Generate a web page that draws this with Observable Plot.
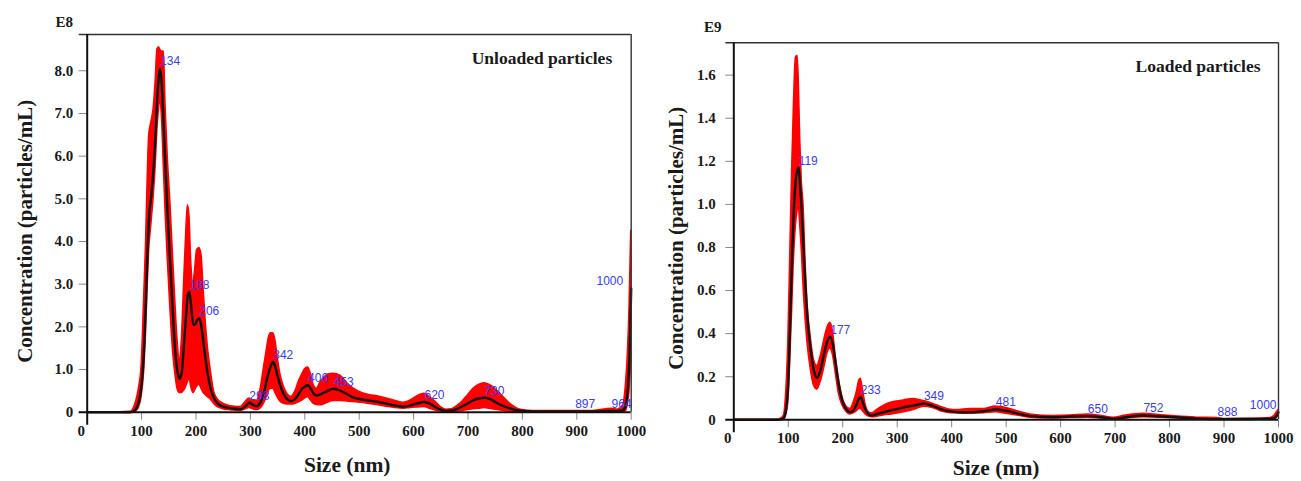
<!DOCTYPE html>
<html><head><meta charset="utf-8">
<script src="https://cdn.jsdelivr.net/npm/d3@7"></script>
<script src="https://cdn.jsdelivr.net/npm/@observablehq/plot@0.6"></script>
<style>
body{margin:0;background:#fff;}
#wrap{position:relative;width:1301px;height:481px;overflow:hidden;background:#fff;}
#left{position:absolute;left:0;top:0;}
#right{position:absolute;left:650px;top:0;}
</style></head><body><div id="wrap"><div id="left"></div><div id="right"></div></div>
<script>
// ---------- Unloaded particles (E8) ----------
const unloadedSize = [0,60,80,85,90,95,100,105,108,111,114,118,122,126,129,132,134,137,141,144,148,153,158,162,166,170,174,178,182,185,188,191,195,198,202,206,210,214,218,222,227,233,240,250,260,270,282,290,298,305,312,318,325,330,334,338,342,346,350,355,361,368,375,383,390,395,400,406,411,416,422,428,435,442,453,466,478,490,505,520,535,550,565,582,595,605,620,630,640,650,660,670,680,690,700,710,720,730,740,750,760,770,780,790,800,820,860,897,930,964,975,985,990,994,997,1000];
const unloadedMean = [0,0,0,0.02,0.08,0.25,0.65,1.6,2.6,3.8,4.6,5.1,5.7,6.6,7.4,7.9,8.05,7.7,6.6,5.7,4.6,3.4,2.2,1.4,0.95,0.78,0.95,1.6,2.3,2.75,2.82,2.5,2.05,2.05,2.15,2.2,2.0,1.6,1.2,0.85,0.55,0.33,0.2,0.13,0.1,0.08,0.07,0.13,0.22,0.17,0.14,0.22,0.45,0.75,0.95,1.1,1.18,1.05,0.85,0.62,0.43,0.3,0.26,0.32,0.45,0.55,0.6,0.63,0.55,0.44,0.39,0.41,0.46,0.5,0.55,0.5,0.42,0.34,0.3,0.27,0.24,0.2,0.16,0.13,0.16,0.2,0.24,0.2,0.12,0.06,0.03,0.04,0.08,0.14,0.21,0.28,0.32,0.34,0.31,0.24,0.17,0.12,0.08,0.05,0.03,0.02,0.02,0.02,0.02,0.03,0.03,0.05,0.15,0.6,1.3,2.9];
const unloadedLow = [0,0,0,0,0.02,0.1,0.35,1.0,1.8,2.9,3.8,4.4,5.0,5.8,6.6,7.1,7.3,7.0,5.7,4.7,3.6,2.4,1.4,0.9,0.55,0.45,0.45,0.5,0.6,0.7,0.8,0.6,0.45,0.5,0.6,0.65,0.55,0.45,0.4,0.35,0.3,0.2,0.12,0.07,0.05,0.04,0.03,0.06,0.1,0.07,0.05,0.08,0.2,0.35,0.5,0.55,0.55,0.45,0.35,0.25,0.2,0.18,0.18,0.2,0.24,0.27,0.32,0.35,0.28,0.2,0.17,0.16,0.18,0.22,0.26,0.26,0.25,0.24,0.22,0.19,0.16,0.13,0.1,0.08,0.1,0.11,0.12,0.08,0.04,0.01,0,0,0.01,0.03,0.05,0.07,0.08,0.1,0.08,0.06,0.04,0.02,0.01,0.005,0,0,0,0,0,0,0,0,0.02,0.2,0.5,1.2];
const unloadedHigh = [0,0,0.01,0.08,0.25,0.55,1.1,2.8,3.9,5.4,6.5,6.8,7.1,7.8,8.5,8.55,8.5,8.45,8.45,7.2,6.0,4.9,3.6,2.6,1.7,1.25,1.7,3.0,4.2,4.85,4.6,3.6,3.0,3.3,3.8,3.85,3.7,2.9,2.1,1.5,1.0,0.5,0.3,0.2,0.15,0.13,0.12,0.22,0.32,0.28,0.27,0.5,1.05,1.45,1.75,1.85,1.85,1.68,1.3,0.9,0.62,0.43,0.36,0.5,0.75,0.88,1.0,1.05,0.9,0.65,0.55,0.68,0.8,0.88,0.9,0.85,0.68,0.55,0.45,0.4,0.37,0.32,0.27,0.22,0.28,0.36,0.43,0.35,0.25,0.12,0.06,0.07,0.14,0.25,0.4,0.55,0.64,0.68,0.64,0.55,0.42,0.29,0.17,0.09,0.05,0.03,0.03,0.03,0.03,0.08,0.06,0.15,0.6,1.4,2.5,4.25];
const unloadedPeaks = [134,188,206,298,342,406,453,620,730,897,964,1000];
const unloadedYTicks = [0,1,2,3,4,5,6,7,8];

// ---------- Loaded particles (E9) ----------
const loadedSize = [0,80,88,92,96,100,104,107,110,114,117,119,122,125,128,132,136,141,147,153,160,166,171,177,182,187,193,199,206,214,220,226,230,233,237,242,248,254,265,275,290,312,330,349,365,380,395,410,434,459,481,500,520,544,587,618,650,675,697,720,752,780,810,850,888,900,950,985,993,997,1000];
const loadedMean = [0,0,0.003,0.01,0.05,0.17,0.5,0.75,0.96,1.12,1.16,1.17,1.08,0.96,0.8,0.6,0.45,0.33,0.23,0.195,0.24,0.31,0.36,0.385,0.35,0.26,0.16,0.09,0.05,0.035,0.045,0.075,0.1,0.105,0.08,0.045,0.025,0.02,0.028,0.035,0.045,0.058,0.066,0.075,0.065,0.05,0.04,0.035,0.035,0.04,0.048,0.042,0.03,0.017,0.012,0.015,0.017,0.012,0.005,0.012,0.02,0.016,0.012,0.006,0.003,0.003,0.004,0.005,0.01,0.02,0.035];
const loadedLow = [0,0,0,0,0.02,0.08,0.3,0.5,0.72,0.9,0.97,1.0,0.9,0.78,0.62,0.46,0.34,0.24,0.16,0.14,0.18,0.24,0.3,0.33,0.3,0.22,0.12,0.07,0.04,0.025,0.03,0.04,0.05,0.05,0.04,0.025,0.015,0.012,0.015,0.02,0.025,0.035,0.045,0.06,0.055,0.04,0.032,0.03,0.028,0.03,0.035,0.028,0.02,0.01,0.006,0.008,0.01,0.006,0.002,0.006,0.012,0.01,0.007,0.003,0.001,0,0,0,0,0.01,0.02];
const loadedHigh = [0,0,0.008,0.02,0.12,0.36,0.81,1.15,1.43,1.68,1.69,1.6,1.3,1.1,1.0,0.72,0.52,0.39,0.28,0.25,0.3,0.37,0.42,0.45,0.41,0.3,0.19,0.11,0.065,0.05,0.08,0.13,0.18,0.19,0.14,0.07,0.035,0.03,0.05,0.065,0.08,0.09,0.097,0.087,0.075,0.06,0.048,0.045,0.05,0.05,0.062,0.055,0.04,0.025,0.018,0.02,0.025,0.018,0.01,0.02,0.028,0.022,0.016,0.01,0.008,0.004,0.005,0.008,0.02,0.035,0.045];
const loadedPeaks = [119,177,233,349,481,650,752,888,1000];
const loadedYTicks = [0,0.2,0.4,0.6,0.8,1.0,1.2,1.4,1.6];

const xTicks = [0,100,200,300,400,500,600,700,800,900,1000];

const serif = "'Liberation Serif','Times New Roman',serif";
const fmtY = d => d === 0 ? "0" : d.toFixed(1);

function panel(cfg) {
  const rows = cfg.size.map((s, i) => ({size: s, mean: cfg.mean[i], low: cfg.low[i], high: cfg.high[i]}));
  const peakRows = cfg.peaks.map(p => rows.find(r => r.size === p));
  const inner = peakRows.filter(r => r.size < 1000);
  const edge = peakRows.filter(r => r.size >= 1000);
  return Plot.plot({
    width: cfg.width, height: 481,
    marginLeft: cfg.ml, marginRight: cfg.mr, marginTop: cfg.mt, marginBottom: cfg.mb,
    x: {domain: [0, 1000]},
    y: {domain: [0, cfg.ymax]},
    style: {fontFamily: serif, background: "transparent", overflow: "visible"},
    marks: [
      Plot.areaY(rows, {x: "size", y1: "low", y2: "high", fill: "#ff0000", stroke: "#ff0000", strokeWidth: 1.5, curve: "monotone-x"}),
      Plot.lineY(rows, {x: "size", y: "mean", stroke: "#111", strokeWidth: 2.4, curve: "monotone-x"}),
      Plot.text(inner, {x: "size", y: "mean", text: d => String(d.size), textAnchor: "start", dy: -7, fill: "#3a3aff", fontFamily: "'Liberation Sans',Arial,sans-serif", fontSize: 12}),
      Plot.text(edge, {x: "size", y: "mean", text: d => String(d.size), textAnchor: "end", dx: cfg.edgeDx, dy: -7, fill: "#3a3aff", fontFamily: "'Liberation Sans',Arial,sans-serif", fontSize: 12}),
      // frame
      Plot.ruleY([cfg.ymax], {stroke: "#333", strokeWidth: 1.4, insetLeft: -8}),
      Plot.ruleX([1000], {stroke: "#333", strokeWidth: 1.4}),
      Plot.axisY({ticks: cfg.yTicks, tickSize: 8, tickPadding: cfg.yPad, tickFormat: fmtY, label: null, fontSize: 15, fontWeight: "bold", stroke: "#888", fill: "#1a1a1a"}),
      Plot.axisX({ticks: xTicks.filter(d => d > 0), tickSize: 8, tickPadding: 5, tickFormat: d => String(d), label: null, fontSize: 15, fontWeight: "bold", stroke: "#888", fill: "#1a1a1a"}),
      Plot.axisX({ticks: [0], tickSize: 0, tickPadding: 13, tickFormat: d => String(d), label: null, fontSize: 15, fontWeight: "bold", fill: "#1a1a1a", dx: -6}),
      Plot.ruleX([0], {stroke: "#111", strokeWidth: 2, insetBottom: -13}),
      Plot.ruleY([0], {stroke: "#111", strokeWidth: 2, insetLeft: -8}),
      // titles
      Plot.text([cfg.name], {text: d => d, frameAnchor: "top-right", textAnchor: "end", lineAnchor: "middle", dx: cfg.nameDx, dy: cfg.nameDy, fontSize: 17.5, fontWeight: "bold", fill: "#1a1a1a"}),
      Plot.text([cfg.exp], {text: d => d, frameAnchor: "top-left", textAnchor: "middle", lineAnchor: "middle", dx: cfg.expDx, dy: cfg.expDy, fontSize: 15, fontWeight: "bold", fill: "#1a1a1a"}),
      Plot.text(["Concentration (particles/mL)"], {text: d => d, frameAnchor: "left", rotate: -90, textAnchor: "middle", lineAnchor: "middle", dx: cfg.ytDx, dy: cfg.ytDy, fontSize: 21, fontWeight: "bold", fill: "#1a1a1a"}),
      Plot.text(["Size (nm)"], {text: d => d, frameAnchor: "bottom", textAnchor: "middle", lineAnchor: "middle", dx: cfg.xtDx, dy: cfg.xtDy, fontSize: 21.5, fontWeight: "bold", fill: "#1a1a1a"})
    ]
  });
}

document.getElementById("left").append(panel({
  size: unloadedSize, mean: unloadedMean, low: unloadedLow, high: unloadedHigh, peaks: unloadedPeaks,
  yTicks: unloadedYTicks, ymax: 8.85, width: 650, ml: 86.7, mr: 19.3, mt: 34, mb: 69.3, yPad: 6,
  name: "Unloaded particles", nameDx: -19, nameDy: 24, exp: "E8", expDx: -23, expDy: -12,
  ytDx: -62, ytDy: 8, xtDx: -12, xtDy: 53, edgeDx: -8
}));
document.getElementById("right").append(panel({
  size: loadedSize, mean: loadedMean, low: loadedLow, high: loadedHigh, peaks: loadedPeaks,
  yTicks: loadedYTicks, ymax: 1.75, width: 651, ml: 83.3, mr: 23, mt: 42.3, mb: 61.7, yPad: 10,
  name: "Loaded particles", nameDx: -18, nameDy: 23.5, exp: "E9", expDx: -21, expDy: -16,
  ytDx: -58, ytDy: 7, xtDx: -10, xtDy: 48.5, edgeDx: -2
}));
</script></body></html>
